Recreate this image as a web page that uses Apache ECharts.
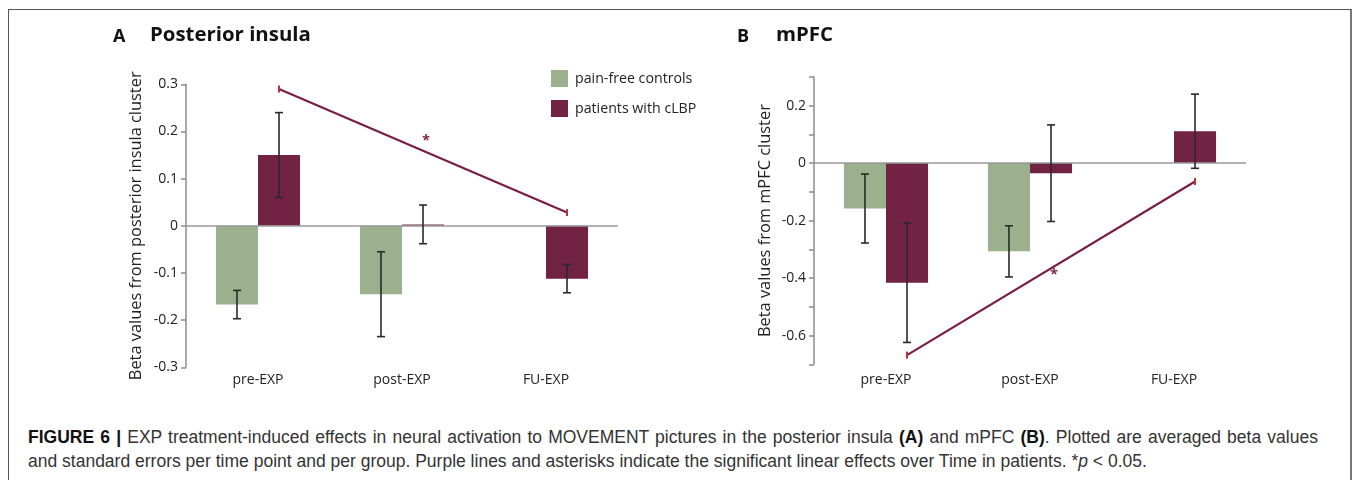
<!DOCTYPE html>
<html>
<head>
<meta charset="utf-8">
<script src="https://cdn.jsdelivr.net/npm/echarts@6/dist/echarts.min.js"></script>
<style>
  html, body { margin: 0; padding: 0; background: #fff; }
  #wrap { position: relative; width: 1357px; height: 480px; overflow: hidden; background: #fff; }
  #frame { position: absolute; left: 8px; top: 9px; width: 1344px; height: 520px;
           border-left: 1.5px solid #555; border-top: 1.5px solid #555; border-right: 2px solid #777; box-sizing: border-box; }
  #chart { position: absolute; left: 0; top: 0; width: 1357px; height: 415px; }
  #caption { position: absolute; left: 28px; top: 425px; width: 1320px; white-space: nowrap;
             font-family: "Liberation Sans", Arial, sans-serif; font-size: 17.5px; line-height: 24px; color: #333; }
  #caption b { color: #111; }
  #caption .l1 { word-spacing: 1.3px; }
</style>
</head>
<body>
<div id="wrap">
  <div id="frame"></div>
  <div id="chart"></div>
  <div id="caption"><span class="l1"><b>FIGURE 6 |</b> EXP treatment-induced effects in neural activation to MOVEMENT pictures in the posterior insula <b>(A)</b> and mPFC <b>(B)</b>. Plotted are averaged beta values</span><br>and standard errors per time point and per group. Purple lines and asterisks indicate the significant linear effects over Time in patients. *<i>p</i> &lt; 0.05.</div>
</div>
<script>
// ---------- data ----------
const categories = ['pre-EXP', 'post-EXP', 'FU-EXP'];
const groupNames = ['pain-free controls', 'patients with cLBP'];

// Panel A: posterior insula
const insulaControls    = [-0.167, -0.145, null];
const insulaControlsErr = [0.030, 0.090, null];
const insulaPatients    = [0.150, 0.003, -0.112];
const insulaPatientsErr = [0.090, 0.041, 0.030];
const insulaTrend       = [0.290, 0.028];   // at pre-EXP and FU-EXP (patients)
const insulaStar        = 0.180;            // asterisk at post-EXP

// Panel B: mPFC
const mpfcControls    = [-0.158, -0.307, null];
const mpfcControlsErr = [0.120, 0.089, null];
const mpfcPatients    = [-0.416, -0.035, 0.111];
const mpfcPatientsErr = [0.208, 0.168, 0.129];
const mpfcTrend       = [-0.668, -0.064];
const mpfcStar        = -0.390;

const insulaTicks = [-0.3, -0.2, -0.1, 0, 0.1, 0.2, 0.3];
const mpfcTicks   = [-0.7, -0.6, -0.5, -0.4, -0.3, -0.2, -0.1, 0, 0.1, 0.2, 0.3];
const mpfcLabelled = ['-0.6', '-0.4', '-0.2', '0', '0.2'];

// ---------- styles ----------
const GREEN = '#9bb08c';
const MAROON = '#722343';
const TREND = '#7a1e40';
const CAP = '#b8323a';
const CAT_GAP = 0.416;
const FONT = '"Open Sans", "Noto Sans", sans-serif';

function fmt(v) {
  const r = Math.round(v * 10) / 10;
  if (r === 0) return '0';
  return r.toFixed(1);
}

function errSeries(gridIdx, means, errs, side) {
  const data = [];
  means.forEach((m, i) => { if (m !== null && errs[i] !== null) data.push([i, m, errs[i]]); });
  return {
    type: 'custom', xAxisIndex: gridIdx, yAxisIndex: gridIdx, z: 5, silent: true,
    data: data,
    renderItem: function (params, api) {
      const band = api.size([1, 0])[0];
      const bw = band * (1 - CAT_GAP) / 2;
      const off = side * bw / 2;
      const top = api.coord([api.value(0), api.value(1) + api.value(2)]);
      const bot = api.coord([api.value(0), api.value(1) - api.value(2)]);
      const x = top[0] + off;
      const cw = 4;
      const st = { stroke: '#2a2a2a', lineWidth: 1.6, fill: null };
      return { type: 'group', children: [
        { type: 'line', shape: { x1: x, y1: top[1], x2: x, y2: bot[1] }, style: st },
        { type: 'line', shape: { x1: x - cw, y1: top[1], x2: x + cw, y2: top[1] }, style: st },
        { type: 'line', shape: { x1: x - cw, y1: bot[1], x2: x + cw, y2: bot[1] }, style: st }
      ]};
    }
  };
}

function trendSeries(gridIdx, trend, star) {
  return {
    type: 'custom', xAxisIndex: gridIdx, yAxisIndex: gridIdx, z: 6, silent: true,
    data: [[0, trend[0], 2, trend[1], 1, star]],
    renderItem: function (params, api) {
      const band = api.size([1, 0])[0];
      const bw = band * (1 - CAT_GAP) / 2;
      const off = bw / 2;
      const p1 = api.coord([api.value(0), api.value(1)]);
      const p2 = api.coord([api.value(2), api.value(3)]);
      const ps = api.coord([api.value(4), api.value(5)]);
      const x1 = p1[0] + off, x2 = p2[0] + off;
      const cst = { stroke: CAP, lineWidth: 2, fill: null };
      return { type: 'group', children: [
        { type: 'line', shape: { x1: x1, y1: p1[1], x2: x2, y2: p2[1] }, style: { stroke: TREND, lineWidth: 2.2, fill: null } },
        { type: 'line', shape: { x1: x1, y1: p1[1] - 3.5, x2: x1, y2: p1[1] + 3.5 }, style: cst },
        { type: 'line', shape: { x1: x2, y1: p2[1] - 3.5, x2: x2, y2: p2[1] + 3.5 }, style: cst },
        { type: 'text', x: ps[0] + off + 3, y: ps[1], style: { text: '*', fill: TREND, font: 'bold 14px ' + FONT, align: 'center', verticalAlign: 'middle' } }
      ]};
    }
  };
}

function barSeries(gridIdx, name, vals, color, withZero) {
  const s = {
    type: 'bar', name: name, xAxisIndex: gridIdx, yAxisIndex: gridIdx,
    data: vals.map(v => v === null ? '-' : v),
    itemStyle: { color: color },
    barGap: '0%', barCategoryGap: (CAT_GAP * 100) + '%',
    silent: true
  };
  if (withZero) {
    s.markLine = { silent: true, symbol: ['none', 'none'], label: { show: false },
      lineStyle: { color: '#9a9a9a', width: 1.6, type: 'solid' }, data: [{ yAxis: 0 }], z: 4 };
  }
  return s;
}

const axisGray = '#8c8c8c';
function xAx(gridIdx, margin) {
  return { type: 'category', gridIndex: gridIdx, data: categories,
    axisLine: { show: false }, axisTick: { show: false },
    axisLabel: { margin: margin, color: '#222', fontSize: 14, fontFamily: FONT } };
}
function yAx(gridIdx, min, max, name, gap, formatter) {
  return { type: 'value', gridIndex: gridIdx, min: min, max: max, interval: 0.1,
    name: name, nameLocation: 'middle', nameGap: gap, nameRotate: 90,
    nameTextStyle: { color: '#222', fontSize: 16.4, fontFamily: FONT },
    axisLine: { show: true, lineStyle: { color: axisGray, width: 1.5 } },
    axisTick: { show: true, length: 5, lineStyle: { color: axisGray, width: 1.5 } },
    splitLine: { show: false },
    axisLabel: { color: '#222', fontSize: 14, fontFamily: FONT, margin: 8, formatter: formatter } };
}

const chart = echarts.init(document.getElementById('chart'), null, { renderer: 'canvas' });
chart.setOption({
  animation: false,
  backgroundColor: 'transparent',
  title: [
    { text: 'A', left: 113, top: 28, padding: 0, textStyle: { fontSize: 18, fontWeight: 'bold', fontFamily: FONT, color: '#111' } },
    { text: 'Posterior insula', left: 150, top: 25, padding: 0, textStyle: { fontSize: 20.4, fontWeight: 'bold', fontFamily: FONT, color: '#111' } },
    { text: 'B', left: 737, top: 28, padding: 0, textStyle: { fontSize: 18, fontWeight: 'bold', fontFamily: FONT, color: '#111' } },
    { text: 'mPFC', left: 776, top: 25, padding: 0, textStyle: { fontSize: 20.4, fontWeight: 'bold', fontFamily: FONT, color: '#111' } }
  ],
  legend: {
    data: groupNames, orient: 'vertical', left: 551, top: 70, padding: 0,
    itemWidth: 17, itemHeight: 17, itemGap: 13, icon: 'rect',
    textStyle: { fontSize: 14.2, fontFamily: FONT, color: '#222', padding: [0, 0, 0, 2] }, selectedMode: false
  },
  grid: [
    { left: 186, top: 84.3, width: 432, height: 283 },
    { left: 814, top: 76.9, width: 432, height: 287.4 }
  ],
  xAxis: [xAx(0, 6), xAx(1, 9)],
  yAxis: [
    yAx(0, -0.3, 0.3, 'Beta values from posterior insula cluster', 42, v => fmt(v)),
    yAx(1, -0.7, 0.3, 'Beta values from mPFC cluster', 41, v => mpfcLabelled.indexOf(fmt(v)) >= 0 ? fmt(v) : '')
  ],
  series: [
    barSeries(0, groupNames[0], insulaControls, GREEN, false),
    barSeries(0, groupNames[1], insulaPatients, MAROON, true),
    errSeries(0, insulaControls, insulaControlsErr, -1),
    errSeries(0, insulaPatients, insulaPatientsErr, 1),
    trendSeries(0, insulaTrend, insulaStar),
    barSeries(1, groupNames[0], mpfcControls, GREEN, false),
    barSeries(1, groupNames[1], mpfcPatients, MAROON, true),
    errSeries(1, mpfcControls, mpfcControlsErr, -1),
    errSeries(1, mpfcPatients, mpfcPatientsErr, 1),
    trendSeries(1, mpfcTrend, mpfcStar)
  ]
});
</script>
</body>
</html>
